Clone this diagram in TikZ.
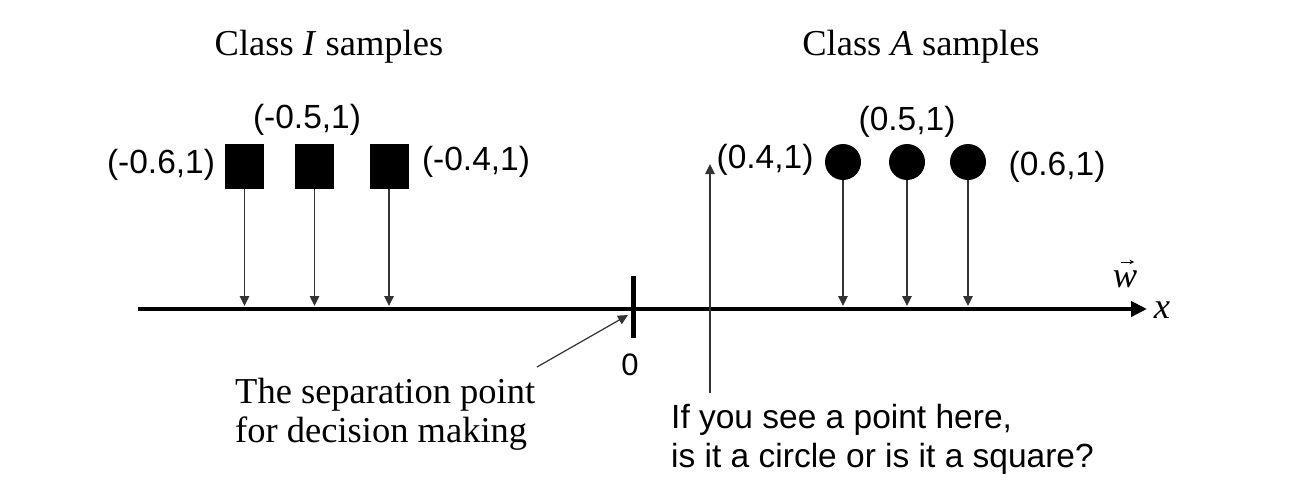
\documentclass[tikz,border=0pt]{standalone}
\usepackage{fontspec}
\setmainfont{Liberation Serif}
\setsansfont{Liberation Sans}
\usetikzlibrary{arrows.meta}
\begin{document}
\begin{tikzpicture}[x=1pt,y=-1pt,
  serif/.style={font=\fontsize{36.5}{39}\selectfont\rmfamily, inner sep=0pt},
  sans/.style={font=\fontsize{33.5}{39}\selectfont\sffamily, inner sep=0pt},
  sqr/.style={fill=black, draw=none, minimum width=39pt, minimum height=45pt, inner sep=0pt},
  dot/.style={circle, fill=black, draw=none, minimum size=36pt, inner sep=0pt},
  proj/.style={draw=black!80, line width=1.3pt, -{Triangle[length=10pt,width=9.5pt]}},
  axisline/.style={line width=4pt, -{Triangle[length=16pt,width=15pt]}}
]
\useasboundingbox (0,0) rectangle (1302,482);
% axis
\coordinate (axL) at (138,309);
\coordinate (axR) at (1147,309);
\coordinate (axtop) at (0,306);
\draw[axisline] (axL) -- (axR);
\coordinate (tickT) at (633,276);
\coordinate (tickB) at (633,338);
\draw[line width=5pt] (tickT) -- (tickB);
\node[sans, font=\fontsize{31}{36}\selectfont\sffamily] (zero) at (630,365) {0};
\node[serif, anchor=base] (wvec) at (1125,287) {\itshape w};
\coordinate (wa1) at (1121,262);
\coordinate (wa2) at (1134,262);
\draw[line width=0.9pt, -{Stealth[length=4.5pt,width=4.5pt]}] (wa1) -- (wa2);
\node[serif, anchor=base] (xlab) at (1162,318) {\itshape x};
% titles
\node[serif, anchor=base] (titleI) at (329,55) {Class \textit{I} samples};
\node[serif, anchor=base] (titleA) at (921,55) {Class \textit{A} samples};
% squares
\node[sqr] (s1) at (244.5,166.5) {};
\node[sqr] (s2) at (314.5,166.5) {};
\node[sqr] (s3) at (389,166.5) {};
\draw[proj] (s1.south) -- (s1.south |- axtop);
\draw[proj] (s2.south) -- (s2.south |- axtop);
\draw[proj] (s3.south) -- (s3.south |- axtop);
\node[sans] (l1) at (161,165) {(-0.6,1)};
\node[sans] (l2) at (307,120) {(-0.5,1)};
\node[sans] (l3) at (476,162) {(-0.4,1)};
% circles
\node[dot] (c1) at (843,162) {};
\node[dot] (c2) at (907,162) {};
\node[dot] (c3) at (968,162) {};
\draw[proj] (c1.south) -- (c1.south |- axtop);
\draw[proj] (c2.south) -- (c2.south |- axtop);
\draw[proj] (c3.south) -- (c3.south |- axtop);
\node[sans] (r1) at (765,160) {(0.4,1)};
\node[sans] (r2) at (907,122) {(0.5,1)};
\node[sans] (r3) at (1057,167) {(0.6,1)};
% query arrow
\coordinate (qB) at (710,393);
\coordinate (qT) at (710,164);
\draw[proj] (qB) -- (qT);
% separation text
\node[serif, anchor=base west, align=left] (sep) at (235,442) {The separation point\\for decision making};
\coordinate (sepS) at (537,367);
\coordinate (sepE) at (628,315);
\draw[proj, line width=1.2pt] (sepS) -- (sepE);
\node[sans, anchor=base west, align=left] (q) at (671,467) {If you see a point here,\\is it a circle or is it a square?};
\end{tikzpicture}
\end{document}
